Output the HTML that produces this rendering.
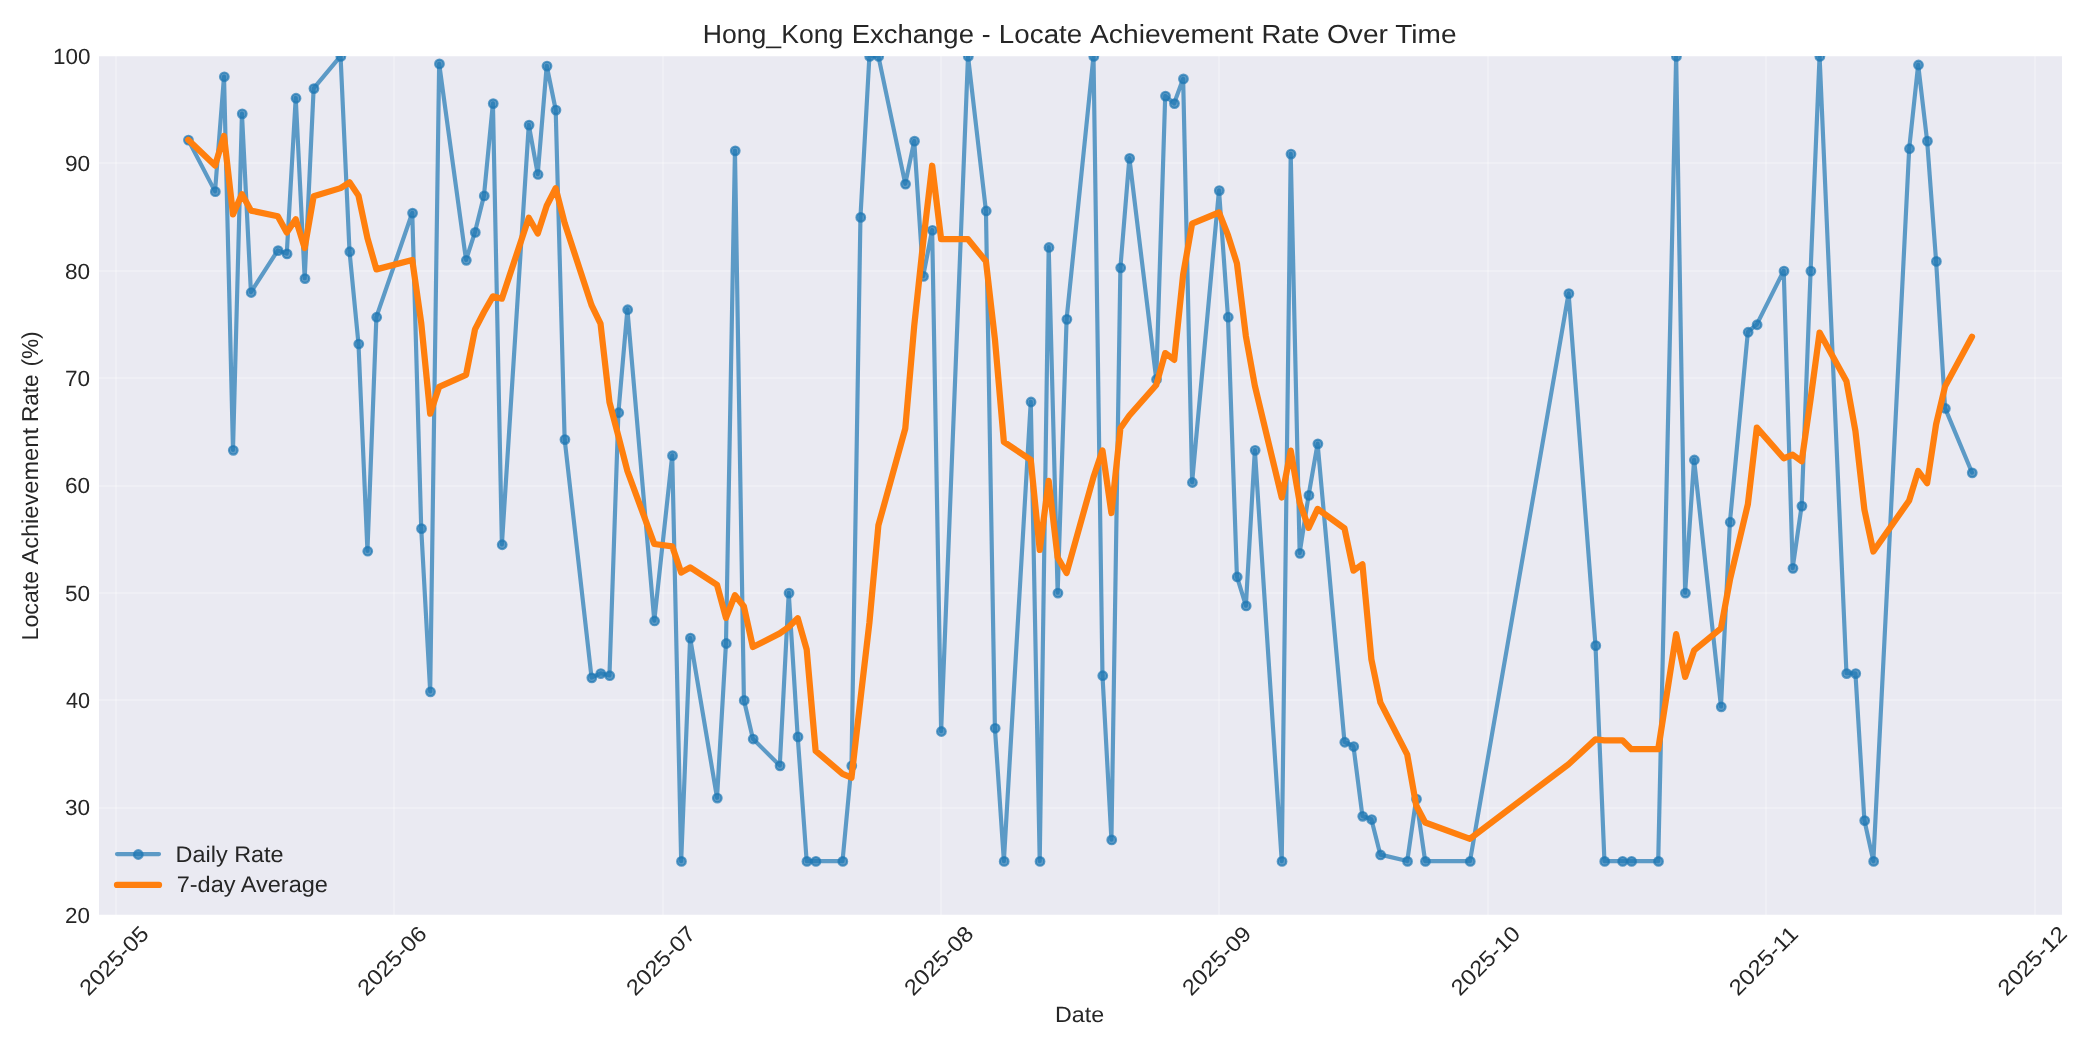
<!DOCTYPE html>
<html><head><meta charset="utf-8"><style>
html,body{margin:0;padding:0;background:#fff;}
svg{display:block;}
text{font-family:"Liberation Sans",sans-serif;fill:#262626;text-rendering:geometricPrecision;}
.wrap{will-change:transform;width:2100px;height:1050px;}
</style></head><body><div class="wrap">
<svg width="2100" height="1050" viewBox="0 0 2100 1050">
<rect x="0" y="0" width="2100" height="1050" fill="#ffffff"/>
<rect x="99" y="56" width="1963" height="859" fill="#EAEAF2" shape-rendering="crispEdges"/>
<clipPath id="ax"><rect x="99" y="56" width="1963" height="859"/></clipPath>
<g fill="#ffffff" fill-opacity="0.25" shape-rendering="crispEdges" clip-path="url(#ax)"><rect x="99" y="914" width="1963" height="2"/><rect x="99" y="807" width="1963" height="2"/><rect x="99" y="699" width="1963" height="2"/><rect x="99" y="592" width="1963" height="2"/><rect x="99" y="485" width="1963" height="2"/><rect x="99" y="377" width="1963" height="2"/><rect x="99" y="270" width="1963" height="2"/><rect x="99" y="162" width="1963" height="2"/><rect x="99" y="55" width="1963" height="2"/><rect x="115" y="56" width="2" height="859"/><rect x="393" y="56" width="2" height="859"/><rect x="662" y="56" width="2" height="859"/><rect x="940" y="56" width="2" height="859"/><rect x="1218" y="56" width="2" height="859"/><rect x="1487" y="56" width="2" height="859"/><rect x="1765" y="56" width="2" height="859"/><rect x="2034" y="56" width="2" height="859"/></g>
<g font-size="22"><text x="64.98" y="922.66" textLength="24.91" lengthAdjust="spacingAndGlyphs">20</text><text x="64.97" y="815.33" textLength="25.12" lengthAdjust="spacingAndGlyphs">30</text><text x="66.0" y="707.99" textLength="24.08" lengthAdjust="spacingAndGlyphs">40</text><text x="64.97" y="600.66" textLength="25.12" lengthAdjust="spacingAndGlyphs">50</text><text x="64.97" y="493.33" textLength="25.12" lengthAdjust="spacingAndGlyphs">60</text><text x="64.97" y="386" textLength="25.12" lengthAdjust="spacingAndGlyphs">70</text><text x="64.97" y="278.66" textLength="25.12" lengthAdjust="spacingAndGlyphs">80</text><text x="64.97" y="171.33" textLength="25.23" lengthAdjust="spacingAndGlyphs">90</text><text x="52.98" y="64" textLength="37.45" lengthAdjust="spacingAndGlyphs">100</text></g>
<g font-size="22"><text transform="translate(113.75,960.3) rotate(-45)" x="0" y="7.9" text-anchor="middle" textLength="87" lengthAdjust="spacingAndGlyphs">2025-05</text><text transform="translate(391.63,960.3) rotate(-45)" x="0" y="7.9" text-anchor="middle" textLength="87" lengthAdjust="spacingAndGlyphs">2025-06</text><text transform="translate(660.54,960.3) rotate(-45)" x="0" y="7.9" text-anchor="middle" textLength="87" lengthAdjust="spacingAndGlyphs">2025-07</text><text transform="translate(938.42,960.3) rotate(-45)" x="0" y="7.9" text-anchor="middle" textLength="87" lengthAdjust="spacingAndGlyphs">2025-08</text><text transform="translate(1216.3,960.3) rotate(-45)" x="0" y="7.9" text-anchor="middle" textLength="87" lengthAdjust="spacingAndGlyphs">2025-09</text><text transform="translate(1485.21,960.3) rotate(-45)" x="0" y="7.9" text-anchor="middle" textLength="87" lengthAdjust="spacingAndGlyphs">2025-10</text><text transform="translate(1763.09,960.3) rotate(-45)" x="0" y="7.9" text-anchor="middle" textLength="87" lengthAdjust="spacingAndGlyphs">2025-11</text><text transform="translate(2032,960.3) rotate(-45)" x="0" y="7.9" text-anchor="middle" textLength="87" lengthAdjust="spacingAndGlyphs">2025-12</text></g>
<g font-size="26.2"><text x="702.77" y="43.1" textLength="140.5" lengthAdjust="spacingAndGlyphs">Hong_Kong</text><text x="851.7" y="43.1" textLength="122.26" lengthAdjust="spacingAndGlyphs">Exchange</text><text x="981.89" y="43.1" textLength="8.86" lengthAdjust="spacingAndGlyphs">-</text><text x="998.88" y="43.1" textLength="83.36" lengthAdjust="spacingAndGlyphs">Locate</text><text x="1090.0" y="43.1" textLength="163.32" lengthAdjust="spacingAndGlyphs">Achievement</text><text x="1261.4" y="43.1" textLength="58.09" lengthAdjust="spacingAndGlyphs">Rate</text><text x="1327.03" y="43.1" textLength="60.88" lengthAdjust="spacingAndGlyphs">Over</text><text x="1395.2" y="43.1" textLength="61.32" lengthAdjust="spacingAndGlyphs">Time</text></g>
<text x="1054.99" y="1021.7" font-size="22" textLength="49.13" lengthAdjust="spacingAndGlyphs">Date</text>
<g transform="translate(37.8,640) rotate(-90)" font-size="23"><text x="-0.42" y="0" textLength="69.59" lengthAdjust="spacingAndGlyphs">Locate</text><text x="75.4" y="0" textLength="136.57" lengthAdjust="spacingAndGlyphs">Achievement</text><text x="217.94" y="0" textLength="47.64" lengthAdjust="spacingAndGlyphs">Rate</text><text x="273.42" y="0" textLength="35.24" lengthAdjust="spacingAndGlyphs">(%)</text></g>
<svg x="99" y="56" width="1963" height="859" viewBox="99 56 1963 859" overflow="hidden">
<polyline points="188.16,139.82 215.05,191.34 224.02,76.49 232.98,450.01 241.94,113.52 250.91,292.23 277.8,250.37 286.76,253.59 295.73,97.96 304.69,278.28 313.65,88.3 340.55,56.1 349.51,251.44 358.47,343.75 367.44,550.9 376.4,316.92 412.26,212.8 421.22,528.36 430.18,691.51 439.15,63.61 466.04,260.03 475,232.12 483.97,195.63 492.93,103.32 501.89,544.46 528.78,124.79 537.75,174.16 546.71,65.76 555.68,109.76 564.64,439.27 591.53,677.55 600.5,673.26 609.46,675.41 618.42,412.44 627.39,309.4 654.28,620.67 672.21,455.37 681.17,861.09 690.13,637.84 717.02,797.77 725.99,643.21 734.95,150.55 743.92,700.09 752.88,738.73 779.77,765.57 788.74,592.76 797.7,736.59 806.66,861.09 815.63,861.09 842.52,861.09 851.48,765.57 860.45,217.1 869.41,56.1 878.37,56.1 905.26,183.82 914.23,140.89 923.19,276.13 932.16,229.98 941.12,731.22 968.01,56.1 985.94,210.66 994.9,728 1003.87,861.09 1030.76,401.71 1039.72,861.09 1048.69,247.15 1057.65,592.76 1066.61,319.06 1093.5,56.1 1102.47,675.41 1111.43,839.63 1120.4,267.54 1129.36,158.06 1156.25,379.17 1165.21,95.81 1174.18,103.32 1183.14,78.64 1192.11,482.21 1219,190.26 1227.96,316.92 1236.93,576.66 1245.89,605.64 1254.85,450.01 1281.74,861.09 1290.71,153.77 1299.67,553.05 1308.64,495.09 1317.6,443.57 1344.49,741.95 1353.45,746.25 1362.42,816.01 1371.38,819.23 1380.35,854.65 1407.24,861.09 1416.2,798.84 1425.16,861.09 1469.98,861.09 1568.59,293.3 1595.48,645.35 1604.44,861.09 1622.37,861.09 1631.33,861.09 1658.22,861.09 1676.15,56.1 1685.12,592.76 1694.08,459.67 1720.97,706.53 1729.93,521.92 1747.86,331.94 1756.83,324.43 1783.72,270.76 1792.68,568.07 1801.64,505.82 1810.61,270.76 1819.57,56.1 1846.46,673.26 1855.43,673.26 1864.39,820.31 1873.35,861.09 1909.21,148.4 1918.17,64.68 1927.14,140.89 1936.1,261.1 1945.07,408.15 1971.96,472.55" fill="none" stroke="#1f77b4" stroke-opacity="0.7" stroke-width="4.17" stroke-linejoin="round" stroke-linecap="round"/>
<g fill="#1f77b4" fill-opacity="0.7" stroke="#1f77b4" stroke-opacity="0.7" stroke-width="2.2"><circle cx="188.46" cy="140.12" r="4.3"/><circle cx="215.35" cy="191.64" r="4.3"/><circle cx="224.32" cy="76.79" r="4.3"/><circle cx="233.28" cy="450.31" r="4.3"/><circle cx="242.24" cy="113.82" r="4.3"/><circle cx="251.21" cy="292.53" r="4.3"/><circle cx="278.1" cy="250.67" r="4.3"/><circle cx="287.06" cy="253.89" r="4.3"/><circle cx="296.03" cy="98.26" r="4.3"/><circle cx="304.99" cy="278.58" r="4.3"/><circle cx="313.95" cy="88.6" r="4.3"/><circle cx="340.85" cy="56.4" r="4.3"/><circle cx="349.81" cy="251.74" r="4.3"/><circle cx="358.77" cy="344.05" r="4.3"/><circle cx="367.74" cy="551.2" r="4.3"/><circle cx="376.7" cy="317.22" r="4.3"/><circle cx="412.56" cy="213.1" r="4.3"/><circle cx="421.52" cy="528.66" r="4.3"/><circle cx="430.48" cy="691.81" r="4.3"/><circle cx="439.45" cy="63.91" r="4.3"/><circle cx="466.34" cy="260.33" r="4.3"/><circle cx="475.3" cy="232.42" r="4.3"/><circle cx="484.27" cy="195.93" r="4.3"/><circle cx="493.23" cy="103.62" r="4.3"/><circle cx="502.19" cy="544.76" r="4.3"/><circle cx="529.08" cy="125.09" r="4.3"/><circle cx="538.05" cy="174.46" r="4.3"/><circle cx="547.01" cy="66.06" r="4.3"/><circle cx="555.98" cy="110.06" r="4.3"/><circle cx="564.94" cy="439.57" r="4.3"/><circle cx="591.83" cy="677.85" r="4.3"/><circle cx="600.8" cy="673.56" r="4.3"/><circle cx="609.76" cy="675.71" r="4.3"/><circle cx="618.72" cy="412.74" r="4.3"/><circle cx="627.69" cy="309.7" r="4.3"/><circle cx="654.58" cy="620.97" r="4.3"/><circle cx="672.51" cy="455.67" r="4.3"/><circle cx="681.47" cy="861.39" r="4.3"/><circle cx="690.43" cy="638.14" r="4.3"/><circle cx="717.32" cy="798.07" r="4.3"/><circle cx="726.29" cy="643.51" r="4.3"/><circle cx="735.25" cy="150.85" r="4.3"/><circle cx="744.22" cy="700.39" r="4.3"/><circle cx="753.18" cy="739.03" r="4.3"/><circle cx="780.07" cy="765.87" r="4.3"/><circle cx="789.04" cy="593.06" r="4.3"/><circle cx="798" cy="736.89" r="4.3"/><circle cx="806.96" cy="861.39" r="4.3"/><circle cx="815.93" cy="861.39" r="4.3"/><circle cx="842.82" cy="861.39" r="4.3"/><circle cx="851.78" cy="765.87" r="4.3"/><circle cx="860.75" cy="217.4" r="4.3"/><circle cx="869.71" cy="56.4" r="4.3"/><circle cx="878.67" cy="56.4" r="4.3"/><circle cx="905.56" cy="184.12" r="4.3"/><circle cx="914.53" cy="141.19" r="4.3"/><circle cx="923.49" cy="276.43" r="4.3"/><circle cx="932.46" cy="230.28" r="4.3"/><circle cx="941.42" cy="731.52" r="4.3"/><circle cx="968.31" cy="56.4" r="4.3"/><circle cx="986.24" cy="210.96" r="4.3"/><circle cx="995.2" cy="728.3" r="4.3"/><circle cx="1004.17" cy="861.39" r="4.3"/><circle cx="1031.06" cy="402.01" r="4.3"/><circle cx="1040.02" cy="861.39" r="4.3"/><circle cx="1048.99" cy="247.45" r="4.3"/><circle cx="1057.95" cy="593.06" r="4.3"/><circle cx="1066.91" cy="319.36" r="4.3"/><circle cx="1093.8" cy="56.4" r="4.3"/><circle cx="1102.77" cy="675.71" r="4.3"/><circle cx="1111.73" cy="839.93" r="4.3"/><circle cx="1120.7" cy="267.84" r="4.3"/><circle cx="1129.66" cy="158.36" r="4.3"/><circle cx="1156.55" cy="379.47" r="4.3"/><circle cx="1165.51" cy="96.11" r="4.3"/><circle cx="1174.48" cy="103.62" r="4.3"/><circle cx="1183.44" cy="78.94" r="4.3"/><circle cx="1192.41" cy="482.51" r="4.3"/><circle cx="1219.3" cy="190.56" r="4.3"/><circle cx="1228.26" cy="317.22" r="4.3"/><circle cx="1237.23" cy="576.96" r="4.3"/><circle cx="1246.19" cy="605.94" r="4.3"/><circle cx="1255.15" cy="450.31" r="4.3"/><circle cx="1282.04" cy="861.39" r="4.3"/><circle cx="1291.01" cy="154.07" r="4.3"/><circle cx="1299.97" cy="553.35" r="4.3"/><circle cx="1308.94" cy="495.39" r="4.3"/><circle cx="1317.9" cy="443.87" r="4.3"/><circle cx="1344.79" cy="742.25" r="4.3"/><circle cx="1353.75" cy="746.55" r="4.3"/><circle cx="1362.72" cy="816.31" r="4.3"/><circle cx="1371.68" cy="819.53" r="4.3"/><circle cx="1380.65" cy="854.95" r="4.3"/><circle cx="1407.54" cy="861.39" r="4.3"/><circle cx="1416.5" cy="799.14" r="4.3"/><circle cx="1425.46" cy="861.39" r="4.3"/><circle cx="1470.28" cy="861.39" r="4.3"/><circle cx="1568.89" cy="293.6" r="4.3"/><circle cx="1595.78" cy="645.65" r="4.3"/><circle cx="1604.74" cy="861.39" r="4.3"/><circle cx="1622.67" cy="861.39" r="4.3"/><circle cx="1631.63" cy="861.39" r="4.3"/><circle cx="1658.52" cy="861.39" r="4.3"/><circle cx="1676.45" cy="56.4" r="4.3"/><circle cx="1685.42" cy="593.06" r="4.3"/><circle cx="1694.38" cy="459.97" r="4.3"/><circle cx="1721.27" cy="706.83" r="4.3"/><circle cx="1730.23" cy="522.22" r="4.3"/><circle cx="1748.16" cy="332.24" r="4.3"/><circle cx="1757.13" cy="324.73" r="4.3"/><circle cx="1784.02" cy="271.06" r="4.3"/><circle cx="1792.98" cy="568.37" r="4.3"/><circle cx="1801.94" cy="506.12" r="4.3"/><circle cx="1810.91" cy="271.06" r="4.3"/><circle cx="1819.87" cy="56.4" r="4.3"/><circle cx="1846.76" cy="673.56" r="4.3"/><circle cx="1855.73" cy="673.56" r="4.3"/><circle cx="1864.69" cy="820.61" r="4.3"/><circle cx="1873.65" cy="861.39" r="4.3"/><circle cx="1909.51" cy="148.7" r="4.3"/><circle cx="1918.47" cy="64.98" r="4.3"/><circle cx="1927.44" cy="141.19" r="4.3"/><circle cx="1936.4" cy="261.4" r="4.3"/><circle cx="1945.37" cy="408.45" r="4.3"/><circle cx="1972.26" cy="472.85" r="4.3"/></g>
<polyline points="188.16,139.82 215.05,165.58 224.02,135.88 232.98,214.41 241.94,194.23 250.91,210.57 277.8,216.25 286.76,232.51 295.73,219.17 304.69,247.99 313.65,196.32 340.55,188.12 349.51,182.29 358.47,195.63 367.44,238.1 376.4,269.38 412.26,260.03 421.22,322.9 430.18,413.67 439.15,386.83 466.04,374.88 475,329.34 483.97,312.01 492.93,296.37 501.89,298.67 528.78,217.71 537.75,233.5 546.71,205.75 555.68,188.27 564.64,223.08 591.53,305.11 600.5,323.51 609.46,402.17 618.42,436.21 627.39,471.01 654.28,544 672.21,546.3 681.17,572.52 690.13,567.46 717.02,584.94 725.99,617.91 734.95,595.21 743.92,606.56 752.88,647.04 779.77,633.39 788.74,626.95 797.7,618.21 806.66,649.34 815.63,750.85 842.52,773.85 851.48,777.68 860.45,699.33 869.41,622.66 878.37,525.45 905.26,428.69 914.23,325.81 923.19,242.24 932.16,165.73 941.12,239.18 968.01,239.18 985.94,261.26 994.9,339 1003.87,441.88 1030.76,459.82 1039.72,549.98 1048.69,480.83 1057.65,557.49 1066.61,572.98 1093.5,476.99 1102.47,450.47 1111.43,513.03 1120.4,428.23 1129.36,415.51 1156.25,384.99 1165.21,353.1 1174.18,359.85 1183.14,274.6 1192.11,223.54 1219,212.5 1227.96,235.19 1236.93,263.4 1245.89,336.24 1254.85,385.76 1281.74,497.54 1290.71,450.62 1299.67,502.45 1308.64,527.9 1317.6,508.89 1344.49,528.36 1353.45,570.68 1362.42,564.24 1371.38,659.31 1380.35,702.39 1407.24,754.68 1416.2,805.43 1425.16,822.45 1469.98,838.86 1568.59,764.19 1595.48,739.35 1604.44,740.27 1622.37,740.27 1631.33,749.16 1658.22,749.16 1676.15,634.16 1685.12,676.94 1694.08,650.41 1720.97,628.33 1729.93,579.88 1747.86,504.29 1756.83,427.62 1783.72,458.29 1792.68,454.76 1801.64,461.35 1810.61,399.1 1819.57,332.56 1846.46,381.31 1855.43,431.15 1864.39,509.65 1873.35,551.51 1909.21,500.45 1918.17,471.01 1927.14,483.13 1936.1,424.25 1945.07,386.37 1971.96,336.7" fill="none" stroke="#ff7f0e" stroke-width="6.25" stroke-linejoin="round" stroke-linecap="round"/>
</svg>
<line x1="117" x2="159" y1="854.1" y2="854.1" stroke="#1f77b4" stroke-opacity="0.7" stroke-width="4.17" stroke-linecap="round"/>
<circle cx="138.3" cy="854.5" r="4.3" fill="#1f77b4" fill-opacity="0.7" stroke="#1f77b4" stroke-opacity="0.7" stroke-width="2.2"/>
<line x1="117" x2="159" y1="884.9" y2="884.9" stroke="#ff7f0e" stroke-width="6.25" stroke-linecap="round"/>
<text x="175.63" y="862.1" font-size="22.6" textLength="107.95" lengthAdjust="spacingAndGlyphs">Daily Rate</text>
<text x="176.66" y="891.8" font-size="22.6" textLength="151.29" lengthAdjust="spacingAndGlyphs">7-day Average</text>
</svg>
</div></body></html>
